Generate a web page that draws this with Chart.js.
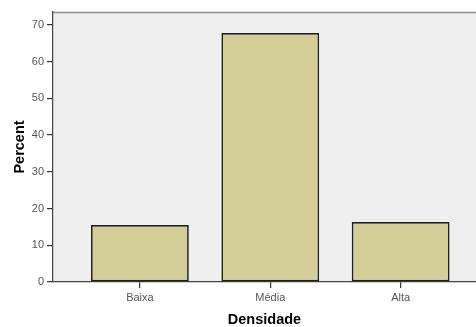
<!DOCTYPE html>
<html>
<head>
<meta charset="utf-8">
<script src="https://cdn.jsdelivr.net/npm/chart.js@4"></script>
<style>
  html, body { margin: 0; padding: 0; background: #ffffff; }
  #wrap { width: 476px; height: 327px; position: relative; }
</style>
</head>
<body>
<div id="wrap"><canvas id="c" width="476" height="327"></canvas></div>
<script>
// Density categories and their share of cases (percent)
const categories = ['Baixa', 'Média', 'Alta'];
const percents = [15.5, 67.8, 16.3];
const yTickValues = [0, 10, 20, 30, 40, 50, 60, 70];

const points = categories.map((name, i) => ({ x: i + 1, y: percents[i] }));

// Grey plot panel with a thin frame line along the top
const panel = {
  id: 'panel',
  beforeDraw(chart) {
    const { ctx, chartArea: a } = chart;
    ctx.save();
    ctx.fillStyle = '#efefef';
    ctx.fillRect(a.left, a.top, a.right - a.left, a.bottom - a.top);
    ctx.strokeStyle = '#8c8c8c';
    ctx.lineWidth = 1.5;
    ctx.beginPath();
    ctx.moveTo(a.left, a.top + 0.5);
    ctx.lineTo(a.right, a.top + 0.5);
    ctx.stroke();
    ctx.restore();
  }
};

new Chart(document.getElementById('c'), {
  type: 'bar',
  data: {
    datasets: [{
      data: points,
      backgroundColor: '#d3ce98',
      borderColor: '#1e1e1e',
      borderWidth: 1.7,
      borderSkipped: false,
      barPercentage: 0.75,
      categoryPercentage: 1.0
    }]
  },
  options: {
    responsive: false,
    animation: false,
    layout: { padding: { top: 12, right: 0, left: 0, bottom: 0 } },
    plugins: { legend: { display: false }, tooltip: { enabled: false } },
    scales: {
      x: {
        type: 'linear',
        offset: false,
        min: 1 / 3,
        max: 3.578,
        afterBuildTicks(axis) {
          axis.ticks = categories.map((_, i) => ({ value: i + 1 }));
        },
        afterFit(axis) { axis.height = 45; },
        grid: { display: true, offset: false, drawOnChartArea: false, tickLength: 6, color: '#333333', lineWidth: 1.2 },
        border: { display: true, color: '#444444', width: 1.2 },
        ticks: {
          autoSkip: false,
          maxRotation: 0,
          padding: 3,
          color: '#555555',
          font: { family: 'Liberation Sans, Arial, sans-serif', size: 11 },
          callback: (v) => categories[Math.round(v) - 1] || ''
        },
        title: {
          display: true,
          text: 'Densidade',
          color: '#000000',
          padding: { top: 9, bottom: -2 },
          font: { family: 'Liberation Sans, Arial, sans-serif', size: 14.5, weight: 'bold' }
        }
      },
      y: {
        min: 0,
        max: 73.5,
        afterBuildTicks(axis) {
          axis.ticks = yTickValues.map(v => ({ value: v }));
        },
        afterFit(axis) { axis.width = 53; },
        grid: { display: true, drawOnChartArea: false, tickLength: 6, color: '#333333', lineWidth: 1.2 },
        border: { display: true, color: '#444444', width: 1.2 },
        ticks: {
          padding: 3,
          color: '#555555',
          font: { family: 'Liberation Sans, Arial, sans-serif', size: 11 }
        },
        title: {
          display: true,
          text: 'Percent',
          color: '#000000',
          padding: { top: 11, bottom: 4 },
          font: { family: 'Liberation Sans, Arial, sans-serif', size: 14.5, weight: 'bold' }
        }
      }
    }
  },
  plugins: [panel]
});
</script>
</body>
</html>
